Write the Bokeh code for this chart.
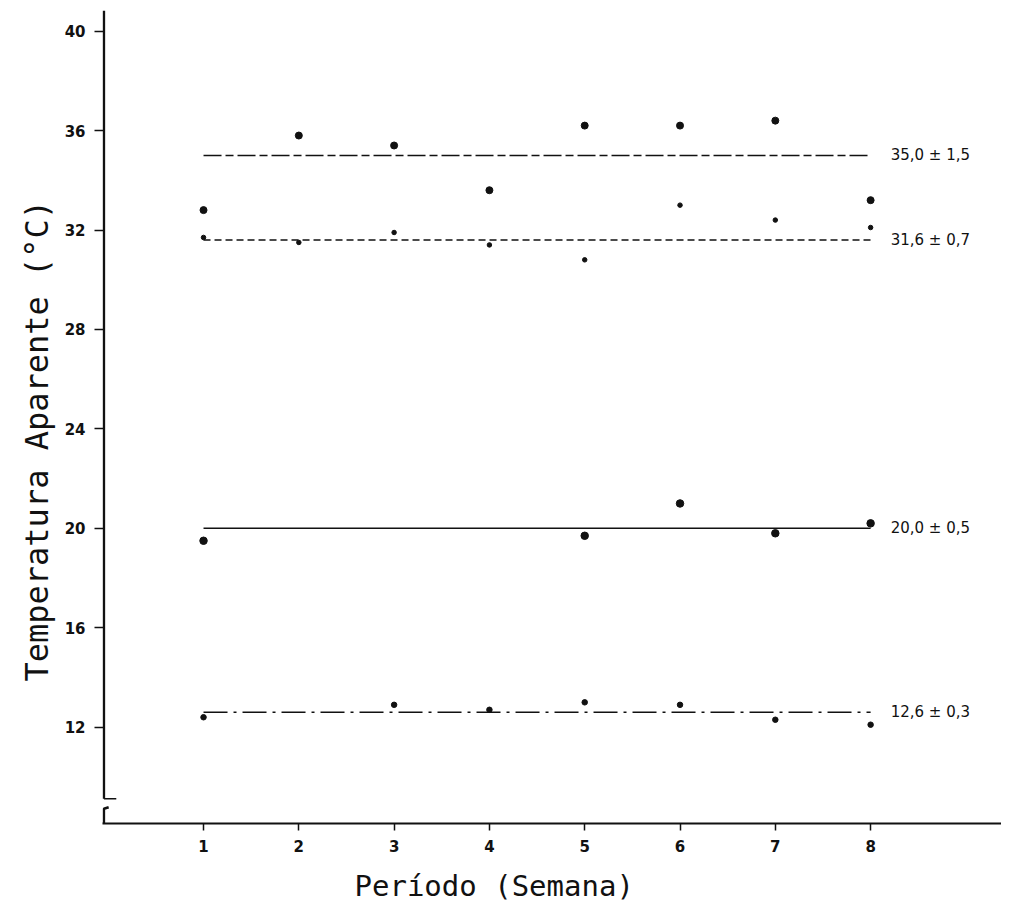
from bokeh.plotting import figure
from bokeh.models import Range1d, FixedTicker, Title
from bokeh.core.properties import value
from bokeh.embed import file_html
from bokeh.resources import INLINE

# ---------------- data ----------------
weeks = [1, 2, 3, 4, 5, 6, 7, 8]
temp_35 = [32.8, 35.8, 35.4, 33.6, 36.2, 36.2, 36.4, 33.2]
temp_31 = [31.7, 31.5, 31.9, 31.4, 30.8, 33.0, 32.4, 32.1]
weeks_20 = [1, 5, 6, 7, 8]
temp_20 = [19.5, 19.7, 21.0, 19.8, 20.2]
weeks_12 = [1, 3, 4, 5, 6, 7, 8]
temp_12 = [12.4, 12.9, 12.7, 13.0, 12.9, 12.3, 12.1]

means = [35.0, 31.6, 20.0, 12.6]
mean_labels = ["35,0 ± 1,5", "31,6 ± 0,7", "20,0 ± 0,5", "12,6 ± 0,3"]
y_ticks = [12, 16, 20, 24, 28, 32, 36, 40]
x_ticks = [1, 2, 3, 4, 5, 6, 7, 8]
x_title = "Período (Semana)"
y_title = "Temperatura Aparente (°C)"

# ---------------- figure ----------------
px_x = 95.3   # pixels per week
px_y = 24.89  # pixels per degree
x0 = -0.06
x1 = x0 + 899 / px_x
y1 = 40.83
y0 = y1 - 814 / px_y

p = figure(width=1001, height=914, x_range=Range1d(x0, x1), y_range=Range1d(y0, y1),
           output_backend="svg", toolbar_location=None,
           min_border_left=102, min_border_right=0, min_border_top=10, min_border_bottom=90)
p.outline_line_color = None
p.grid.visible = False
p.background_fill_color = "white"

# x axis
xa = p.xaxis[0]
xa.ticker = FixedTicker(ticks=x_ticks)
xa.axis_line_width = 2
xa.axis_line_color = "#111111"
xa.major_tick_line_width = 1.5
xa.major_tick_line_color = "#111111"
xa.major_tick_out = 7
xa.major_tick_in = 0
xa.minor_tick_line_color = None
xa.major_label_standoff = 9
xa.major_label_text_font = "DejaVu Sans"
xa.major_label_text_font_style = "bold"
xa.major_label_text_font_size = "15px"
xa.major_label_text_color = "#111111"

# axis titles, placed off-centre like in the original
p.add_layout(Title(text=x_title, align="left", offset=252, standoff=24,
                   text_font="DejaVu Sans Mono", text_font_size="29px",
                   text_font_style="normal", text_color="#111111"), "below")
p.add_layout(Title(text=y_title, align="left", offset=142, standoff=12,
                   text_font="DejaVu Sans Mono", text_font_size="32px",
                   text_font_style="normal", text_color="#111111"), "left")

# y axis
ya = p.yaxis[0]
ya.ticker = FixedTicker(ticks=y_ticks)
ya.axis_line_color = None
ya.major_tick_line_width = 1.5
ya.major_tick_line_color = "#111111"
ya.major_tick_out = 8
ya.major_tick_in = 2
ya.minor_tick_line_color = None
ya.major_label_standoff = 9
ya.major_label_text_font = "DejaVu Sans"
ya.major_label_text_font_style = "bold"
ya.major_label_text_font_size = "15px"
ya.major_label_text_color = "#111111"

# hand-drawn y axis line with a break near the bottom
ax_x = x0 + 1.4 / px_x
p.line([ax_x, ax_x], [y1, 9.12], line_color="#111111", line_width=2.5)
p.line([ax_x, ax_x + 0.13], [9.12, 9.12], line_color="#111111", line_width=1.5)
p.line([ax_x + 0.05, ax_x, ax_x], [8.78, 8.72, y0], line_color="#111111", line_width=2.5)

# mean lines
line_x = [weeks[0], weeks[-1]]
dashes = ["18 4 8 4", "7 4", "solid", "24 6 3 6"]
for m, d in zip(means, dashes):
    p.line(line_x, [m, m], line_color="#111111", line_width=1.6, line_dash=d)

# points
p.scatter(weeks, temp_35, size=7, color="#111111")
p.scatter(weeks, temp_31, size=4.5, color="#111111")
p.scatter(weeks_20, temp_20, size=7.5, color="#111111")
p.scatter(weeks_12, temp_12, size=5.5, color="#111111")

# mean labels
p.text([weeks[-1] + 0.21] * len(means), means, text=mean_labels,
       text_font=value("DejaVu Sans"), text_font_size="15px",
       text_baseline="middle", text_align="left", text_color="#111111")

open("out.html", "w").write(file_html(p, INLINE))
